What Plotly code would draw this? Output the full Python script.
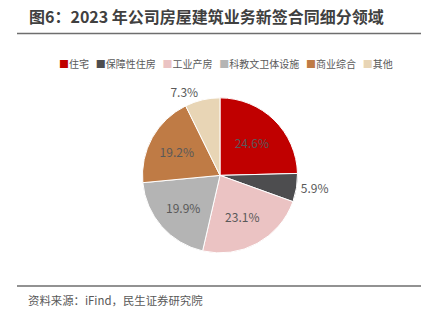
import plotly.graph_objects as go

# 2023 新签合同细分领域占比（%）
categories = ["住宅", "保障性住房", "工业产房", "科教文卫体设施", "商业综合", "其他"]
shares = [24.6, 5.9, 23.1, 19.9, 19.2, 7.3]
colors = ["#C00000", "#4D4D4F", "#EBC3C3", "#B4B4B4", "#BF7B45", "#E8D5B5"]
positions = ["inside", "outside", "inside", "inside", "inside", "outside"]

FONT = "Noto Sans CJK SC"

fig = go.Figure()
fig.add_trace(go.Pie(
    labels=categories,
    values=shares,
    sort=False,
    direction="clockwise",
    rotation=0,
    marker=dict(colors=colors, line=dict(color="white", width=1)),
    texttemplate="%{value:.1f}%",
    textposition=positions,
    textfont=dict(family=FONT, size=12, color="#595959"),
    insidetextorientation="horizontal",
    hoverinfo="label+value",
    showlegend=False,
    domain=dict(x=[0.332, 0.696], y=[0.217, 0.697]),
))

# single-line legend: coloured square + category name
legend_text = "   ".join(
    f"<span style='color:{c}'>■</span>{name}" for name, c in zip(categories, colors)
)

fig.update_layout(
    width=428, height=323,
    margin=dict(l=0, r=0, t=0, b=0),
    paper_bgcolor="white",
    plot_bgcolor="white",
    font=dict(family=FONT),
    annotations=[
        dict(text="<b>图6：2023 年公司房屋建筑业务新签合同细分领域</b>",
             x=27 / 428, y=1 - 16 / 323, xref="paper", yref="paper",
             xanchor="left", yanchor="middle", showarrow=False,
             font=dict(family=FONT, size=16, color="#404040")),
        dict(text=legend_text,
             x=226 / 428, y=1 - 63 / 323, xref="paper", yref="paper",
             xanchor="center", yanchor="middle", showarrow=False,
             font=dict(family=FONT, size=10, color="#595959")),
        dict(text="资料来源：iFind，民生证券研究院",
             x=26 / 428, y=1 - 300 / 323, xref="paper", yref="paper",
             xanchor="left", yanchor="middle", showarrow=False,
             font=dict(family=FONT, size=11.4, color="#595959")),
    ],
    shapes=[
        dict(type="line", xref="paper", yref="paper",
             x0=17 / 428, x1=421 / 428, y0=1 - 33.5 / 323, y1=1 - 33.5 / 323,
             line=dict(color="#6E6E6E", width=1.5)),
        dict(type="line", xref="paper", yref="paper",
             x0=17 / 428, x1=421 / 428, y0=1 - 286 / 323, y1=1 - 286 / 323,
             line=dict(color="#6E6E6E", width=1.5)),
    ],
)

fig.write_html("out.html")
